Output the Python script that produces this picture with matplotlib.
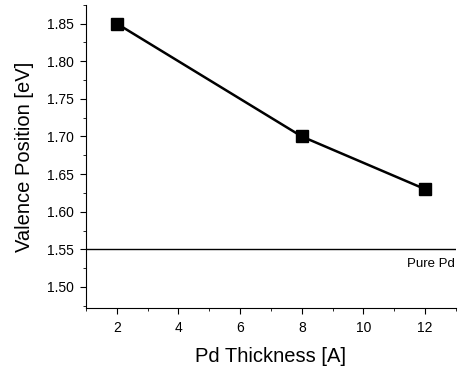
import matplotlib
matplotlib.use("Agg")
import matplotlib.pyplot as plt
from matplotlib.ticker import MultipleLocator

plt.rcParams['font.family'] = ['Liberation Sans', 'DejaVu Sans']

thickness = [2, 8, 12]
valence = [1.85, 1.70, 1.63]
pure_pd = 1.55

fig = plt.figure(figsize=(4.61, 3.72), dpi=100)
ax = fig.add_axes([0.1866, 0.172, 0.8024, 0.815])

ax.plot(thickness, valence, color='black', lw=1.8, marker='s', ms=8, mfc='black', mec='black')
ax.axhline(pure_pd, color='black', lw=1.0)
ax.text(12.95, pure_pd - 0.012, 'Pure Pd', ha='right', va='top', fontsize=9.5)

ax.set_xlim(1, 13)
ax.set_ylim(1.472, 1.875)
ax.xaxis.set_major_locator(MultipleLocator(2))
ax.xaxis.set_minor_locator(MultipleLocator(1))
ax.yaxis.set_minor_locator(MultipleLocator(0.025))
ax.set_yticks([1.50, 1.55, 1.60, 1.65, 1.70, 1.75, 1.80, 1.85])
ax.yaxis.set_major_formatter(matplotlib.ticker.FormatStrFormatter('%.2f'))

for s in ['top', 'right']:
    ax.spines[s].set_visible(False)
ax.tick_params(which='major', direction='out', length=4, labelsize=10, pad=5)
ax.tick_params(which='minor', direction='out', length=2)

ax.set_xlabel('Pd Thickness [A]', fontsize=14.5, labelpad=9)
ax.set_ylabel('Valence Position [eV]', fontsize=14.5, labelpad=9)

fig.savefig('out.png', dpi=100)
